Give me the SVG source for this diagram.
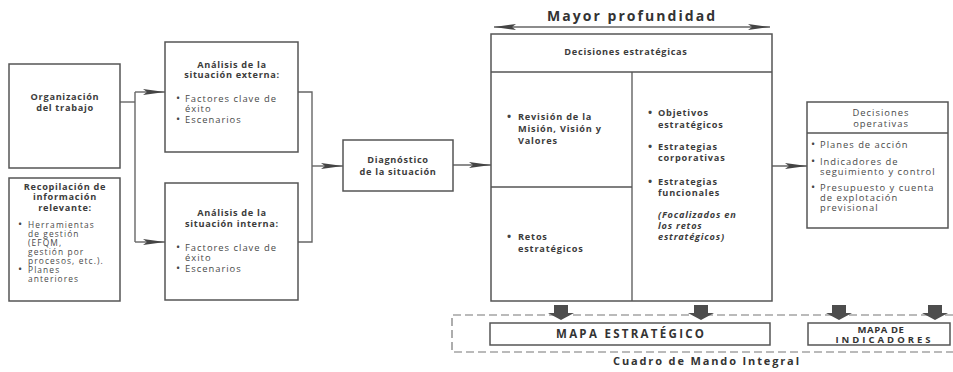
<svg xmlns="http://www.w3.org/2000/svg" width="953" height="372" viewBox="0 0 953 372">
  <style>
    .box { fill: #fff; stroke: #555; stroke-width: 1.5; }
    .div { stroke: #555; stroke-width: 1.3; fill: none; }
    .wire { stroke: #666; stroke-width: 1.4; fill: none; }
    text { font-family: "Open Sans", "Noto Sans", "DejaVu Sans", sans-serif; fill: #4a4a4a; }
    .t { font-size: 9.2px; font-weight: 700; letter-spacing: 0.7px; text-anchor: middle; fill: #3c3c3c; }
    .b { font-size: 9.4px; letter-spacing: 1px; }
    .s { font-size: 8.4px; letter-spacing: 1.1px; }
    .bb { font-size: 9.2px; font-weight: 700; letter-spacing: 0.8px; fill: #3c3c3c; }
    .dot { font-size: 11px; fill: #444; letter-spacing: 0; }
    .it { font-style: italic; }
    .cap { font-weight: 700; fill: #333; text-anchor: middle; }
  </style>
  <defs>
    <marker id="head" viewBox="0 0 22 7" refX="22" refY="3.5" markerWidth="22" markerHeight="7" markerUnits="userSpaceOnUse" orient="auto">
      <path d="M0,0.5 L22,3.5 L0,6.5 L4,3.5 Z" fill="#444"/>
    </marker>
    <marker id="headStart" viewBox="0 0 22 7" refX="0" refY="3.5" markerWidth="22" markerHeight="7" markerUnits="userSpaceOnUse" orient="auto">
      <path d="M22,0.5 L0,3.5 L22,6.5 L18,3.5 Z" fill="#444"/>
    </marker>
    <path id="blockDown" d="M-7,0 H7 V8 H13 L0,15 L-13,8 H-7 Z" fill="#4d4d4d"/>
  </defs>

  <!-- Depth scale above the strategic block -->
  <g id="depth">
    <text x="631" y="21" class="cap" font-size="14" textLength="168" lengthAdjust="spacing">Mayor profundidad</text>
    <line x1="494" y1="27" x2="770" y2="27" class="wire" marker-start="url(#headStart)" marker-end="url(#head)"/>
  </g>

  <!-- Connectors -->
  <g id="connectors">
    <path class="wire" d="M120,102 H135"/>
    <path class="wire" d="M135,92 V242"/>
    <path class="wire" d="M135,92 H165" marker-end="url(#head)"/>
    <path class="wire" d="M135,242 H165" marker-end="url(#head)"/>
    <path class="wire" d="M298,92 H312 V242 H298"/>
    <path class="wire" d="M312,166 H343" marker-end="url(#head)"/>
    <path class="wire" d="M453,165 H491" marker-end="url(#head)"/>
    <path class="wire" d="M772,166 H807" marker-end="url(#head)"/>
  </g>

  <g id="organizacion">
    <rect class="box" x="9" y="64" width="111" height="104"/>
    <text class="t" y="100"><tspan x="65">Organización</tspan><tspan x="65" dy="11">del trabajo</tspan></text>
  </g>

  <g id="recopilacion">
    <rect class="box" x="9" y="178" width="111" height="123"/>
    <text class="t" y="190"><tspan x="65">Recopilación de</tspan><tspan x="65" dy="10">información</tspan><tspan x="65" dy="11">relevante:</tspan></text>
    <text class="s" y="228">
      <tspan x="18" class="dot">•</tspan><tspan x="28">Herramientas</tspan>
      <tspan x="28" dy="9">de gestión</tspan>
      <tspan x="28" dy="9">(EFQM,</tspan>
      <tspan x="28" dy="9">gestión por</tspan>
      <tspan x="28" dy="9">procesos, etc.).</tspan>
      <tspan x="18" dy="9" class="dot">•</tspan><tspan x="28">Planes</tspan>
      <tspan x="28" dy="9">anteriores</tspan>
    </text>
  </g>

  <g id="externa">
    <rect class="box" x="165" y="42" width="133" height="110"/>
    <text class="t" y="68"><tspan x="232">Análisis de la</tspan><tspan x="232" dy="10">situación externa:</tspan></text>
    <text class="b" y="102">
      <tspan x="176" class="dot">•</tspan><tspan x="185">Factores clave de</tspan>
      <tspan x="185" dy="10">éxito</tspan>
      <tspan x="176" dy="11" class="dot">•</tspan><tspan x="185">Escenarios</tspan>
    </text>
  </g>

  <g id="interna">
    <rect class="box" x="165" y="183" width="133" height="117"/>
    <text class="t" y="216"><tspan x="232">Análisis de la</tspan><tspan x="232" dy="11">situación interna:</tspan></text>
    <text class="b" y="251">
      <tspan x="176" class="dot">•</tspan><tspan x="185">Factores clave de</tspan>
      <tspan x="185" dy="10">éxito</tspan>
      <tspan x="176" dy="11" class="dot">•</tspan><tspan x="185">Escenarios</tspan>
    </text>
  </g>

  <g id="diagnostico">
    <rect class="box" x="343" y="140" width="110" height="51"/>
    <text class="t" y="163"><tspan x="398">Diagnóstico</tspan><tspan x="398" dy="12">de la situación</tspan></text>
  </g>

  <g id="estrategicas">
    <rect class="box" x="491" y="34" width="281" height="267"/>
    <line class="div" x1="491" y1="72" x2="772" y2="72"/>
    <line class="div" x1="632" y1="72" x2="632" y2="301"/>
    <line class="div" x1="491" y1="187" x2="632" y2="187"/>
    <text class="t" x="626" y="55">Decisiones estratégicas</text>
    <text class="bb" y="120">
      <tspan x="507" class="dot">•</tspan><tspan x="518">Revisión de la</tspan>
      <tspan x="518" dy="12">Misión, Visión y</tspan>
      <tspan x="518" dy="12">Valores</tspan>
    </text>
    <text class="bb" y="240">
      <tspan x="507" class="dot">•</tspan><tspan x="518">Retos</tspan>
      <tspan x="518" dy="12">estratégicos</tspan>
    </text>
    <text class="bb" y="116">
      <tspan x="648" class="dot">•</tspan><tspan x="658">Objetivos</tspan>
      <tspan x="658" dy="12">estratégicos</tspan>
      <tspan x="648" dy="22" class="dot">•</tspan><tspan x="658">Estrategias</tspan>
      <tspan x="658" dy="11">corporativas</tspan>
      <tspan x="648" dy="24" class="dot">•</tspan><tspan x="658">Estrategias</tspan>
      <tspan x="658" dy="11">funcionales</tspan>
    </text>
    <text class="bb it" y="218">
      <tspan x="658">(Focalizados en</tspan>
      <tspan x="658" dy="11">los retos</tspan>
      <tspan x="658" dy="11">estratégicos)</tspan>
    </text>
  </g>

  <g id="operativas">
    <rect class="box" x="807" y="102" width="141" height="126"/>
    <line class="div" x1="807" y1="133" x2="948" y2="133"/>
    <text class="b" y="116" text-anchor="middle"><tspan x="881">Decisiones</tspan><tspan x="881" dy="11">operativas</tspan></text>
    <text class="b" y="148">
      <tspan x="811" class="dot">•</tspan><tspan x="820">Planes de acción</tspan>
      <tspan x="811" dy="17" class="dot">•</tspan><tspan x="820">Indicadores de</tspan>
      <tspan x="820" dy="10">seguimiento y control</tspan>
      <tspan x="811" dy="16" class="dot">•</tspan><tspan x="820">Presupuesto y cuenta</tspan>
      <tspan x="820" dy="10">de explotación</tspan>
      <tspan x="820" dy="10">previsional</tspan>
    </text>
  </g>

  <!-- Balanced scorecard frame -->
  <g id="cuadro-mando">
    <path d="M953,315 H452 V352 H953" fill="none" stroke="#777" stroke-width="1.2" stroke-dasharray="8 4"/>
    <text x="706" y="365" class="cap" font-size="11" textLength="186" lengthAdjust="spacing">Cuadro de Mando Integral</text>
  </g>

  <g id="flechas-bloque">
    <use href="#blockDown" x="561" y="305"/>
    <use href="#blockDown" x="701" y="305"/>
    <use href="#blockDown" x="839" y="305"/>
    <use href="#blockDown" x="935" y="305"/>
  </g>

  <g id="mapa-estrategico">
    <rect class="box" x="490" y="323" width="280" height="22"/>
    <text x="630" y="338" class="cap" font-size="11.5" textLength="148" lengthAdjust="spacing">MAPA ESTRATÉGICO</text>
  </g>

  <g id="mapa-indicadores">
    <rect class="box" x="808" y="323" width="142" height="22"/>
    <text class="cap" font-size="9.5" y="333"><tspan x="881" letter-spacing="0.6">MAPA DE</tspan><tspan x="884.5" dy="9.5" letter-spacing="3">INDICADORES</tspan></text>
  </g>
</svg>
